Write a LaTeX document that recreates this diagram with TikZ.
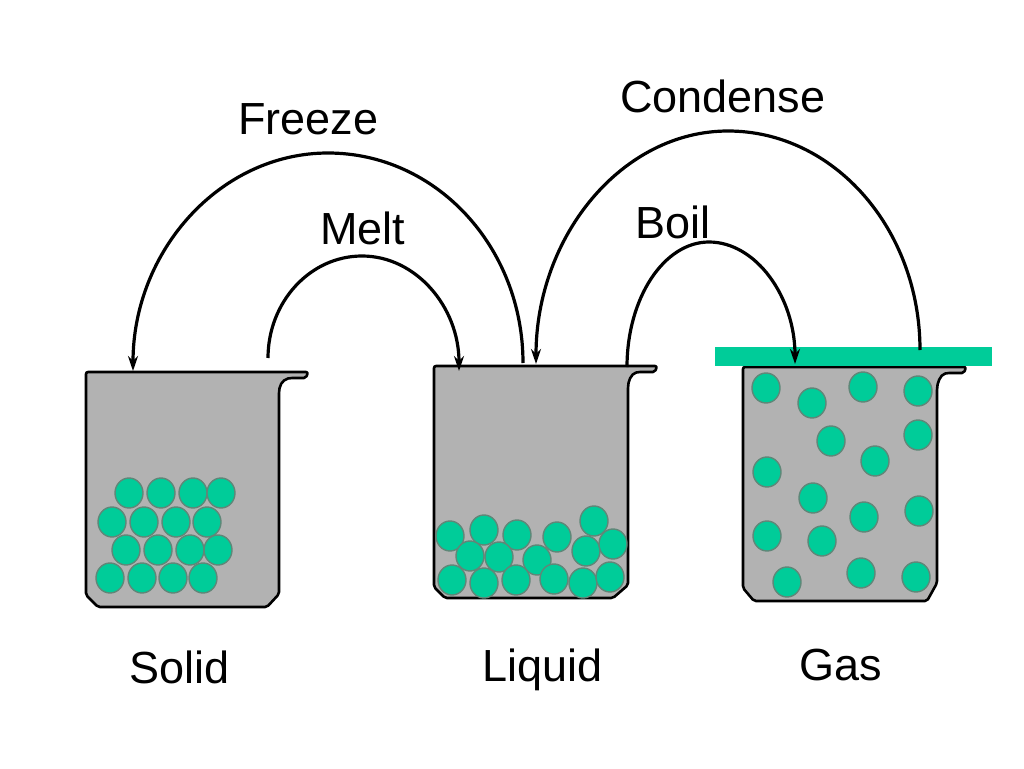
\documentclass[tikz,border=0pt]{standalone}
\usepackage{fontspec}
\setmainfont{Liberation Sans}
\usetikzlibrary{arrows.meta}
\definecolor{beakergray}{RGB}{178,178,178}
\definecolor{molgreen}{RGB}{0,204,153}
\definecolor{moledge}{RGB}{95,135,120}
\begin{document}
\begin{tikzpicture}[x=1pt,y=-1pt,
  beaker/.style={fill=beakergray,draw=black,line width=2.6pt,line join=round,rounded corners=2pt},
  mol/.style={fill=molgreen,draw=moledge,line width=1.4pt},
  lid/.style={fill=molgreen,draw=none},
  trans/.style={draw=black,line width=3.2pt,-{Stealth[length=15pt,width=10pt]}},
  lbl/.style={font=\fontsize{45}{54}\selectfont,inner sep=0pt,anchor=base west}]
\useasboundingbox[fill=white] (0,0) rectangle (1024,768);

% beakers
\draw[beaker] (86,372) -- (308,372) -- (306,378) -- (290,378)
  .. controls (282,380) and (279,386) .. (279,395) -- (279,594) -- (267,607)
  -- (98,607) -- (86,595) -- cycle;
\draw[beaker] (434,366) -- (657,366) -- (655,372) -- (638,372)
  .. controls (631,374) and (628,381) .. (628,390) -- (628,585) -- (613,598)
  -- (445,598) -- (434,587) -- cycle;
\draw[beaker] (743,367) -- (966,367) -- (964,373) -- (947,373)
  .. controls (940,375) and (937,383) .. (937,392) -- (937,583) -- (927,601)
  -- (754,601) -- (743,588) -- cycle;
\fill[lid] (715,347) rectangle (992,366);

% solid molecules
\foreach \x/\y in {129/493,161/493,193/493,221/493,
                   112/522,144/522,176/522,207/522,
                   126/550,158/550,190/550,218/550,
                   110/578,142/578,173/578,203/578}
  \draw[mol] (\x,\y) ellipse[x radius=14,y radius=15];
% liquid molecules
\foreach \x/\y in {450/536,484/530,517/535,557/537,594/521,
                   470/556,499/557,537/560,586/551,613/544,
                   452/580,484/583,516/580,554/579,583/583,610/577}
  \draw[mol] (\x,\y) ellipse[x radius=14,y radius=15];
% gas molecules
\foreach \x/\y in {766/388,812/403,863/387,918/391,
                   831/441,918/435,875/461,767/472,
                   813/498,864/517,919/511,767/536,
                   822/541,787/582,861/573,916/577}
  \draw[mol] (\x,\y) ellipse[x radius=14,y radius=15];

% connector end points
\coordinate (frS) at (523,363); \coordinate (frP) at (328,153); \coordinate (frE) at (133,371);
\coordinate (meS) at (268,358); \coordinate (meP) at (362,256); \coordinate (meE) at (459,371);
\coordinate (coS) at (920,350); \coordinate (coP) at (728,131); \coordinate (coE) at (536,364);
\coordinate (boS) at (627,367); \coordinate (boP) at (709,242); \coordinate (boE) at (795,364);

\draw[trans] (frS) .. controls +(0,-116) and +(108,0) .. (frP)
                   .. controls +(-108,0) and +(0,-120) .. (frE);
\draw[trans] (meS) .. controls +(0,-56) and +(-52,0) .. (meP)
                   .. controls +(54,0) and +(0,-64) .. (meE);
\draw[trans] (coS) .. controls +(0,-121) and +(106,0) .. (coP)
                   .. controls +(-106,0) and +(0,-128) .. (coE);
\draw[trans] (boS) .. controls +(0,-69) and +(-45,0) .. (boP)
                   .. controls +(47,0) and +(0,-67) .. (boE);

% labels
\node[lbl] (freeze) at (238,134) {Freeze};
\node[lbl] (condense) at (620,112) {Condense};
\node[lbl] (melt) at (320,244) {Melt};
\node[lbl] (boil) at (635,238) {Boil};
\node[lbl] (solid) at (129,683) {Solid};
\node[lbl] (liquid) at (482,681) {Liquid};
\node[lbl] (gas) at (799,680) {Gas};
\end{tikzpicture}
\end{document}
